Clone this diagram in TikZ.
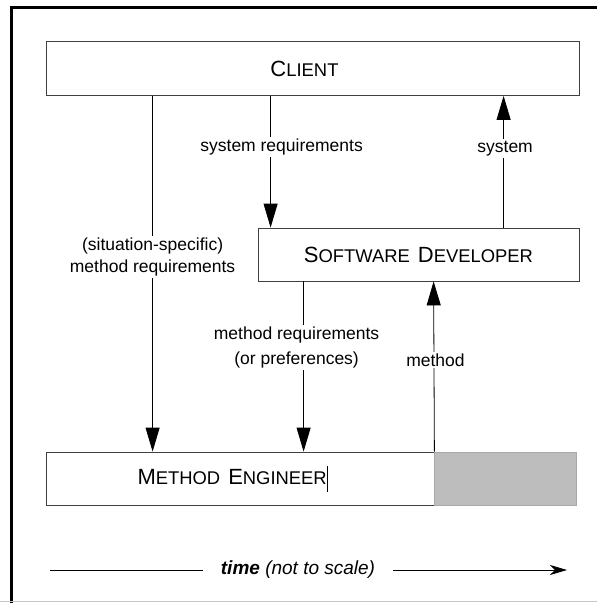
\documentclass[tikz,border=0pt]{standalone}
\usepackage{fontspec}
\setmainfont{Liberation Sans}
\usepackage{xcolor}
\usepackage{tikz}
\usetikzlibrary{arrows.meta, positioning}

\definecolor{boxline}{HTML}{404040}
\definecolor{idlefill}{HTML}{BDBDBD}
\definecolor{idleline}{HTML}{A8A8A8}

% fake small caps for the role names
\newcommand{\rolename}[2]{{\fontsize{22}{24}\selectfont #1}{\fontsize{18.4}{24}\selectfont #2}}

\begin{document}
\begin{tikzpicture}[x=1pt, y=-1pt,
        box/.style={rectangle, draw=boxline, line width=0.8pt, inner sep=0pt, minimum height=54pt},
        lbl/.style={fill=white, inner sep=2pt, align=center, font=\fontsize{17.5}{24}\selectfont},
        msg/.style={-{Triangle[length=24pt, width=14pt]}, line width=0.8pt}]
        \useasboundingbox (0,0) rectangle (597,603);

        % Frame
        \draw[line width=2.7pt] (11.7,603) -- (11.7,7.3) -- (597,7.3);
        \draw[gray!45, line width=1pt] (0,601.5) -- (597,601.5);

        % Actors
        \node[box, minimum width=533pt] (client) at (312.5,68.5) {\hspace{-16pt}\rolename{C}{LIENT}};
        \node[box, minimum width=321pt, minimum height=53pt] (dev) at (418.5,254.5) {\rolename{S}{OFTWARE}\hspace{8pt}\rolename{D}{EVELOPER}};
        \node[box, minimum width=388pt, minimum height=53pt] (engineer) at (240,478.5) {\hspace{-15pt}\rolename{M}{ETHOD}\hspace{8pt}\rolename{E}{NGINEER}\rule[-7pt]{0.7pt}{26pt}};
        \node[box, draw=idleline, fill=idlefill, minimum width=142pt, minimum height=53pt, right=0pt of engineer] (idle) {};

        % Messages
        \draw[msg] ([xshift=107pt]client.south west) -- node[lbl, pos=0.452, font=\fontsize{17.5}{22}\selectfont] {(situation-specific)\\method requirements} ([xshift=107pt]engineer.north west);
        \draw[msg] ([xshift=225pt]client.south west) -- node[lbl, pos=0.386, xshift=11pt] {system requirements} ([xshift=13pt]dev.north west);
        \draw[msg] ([xshift=246pt]dev.north west) -- node[lbl, pos=0.598, xshift=1.5pt] {system} ([xshift=458pt]client.south west);
        \draw[msg] ([xshift=46pt]dev.south west) -- node[lbl, pos=0.389, xshift=-7pt, font=\fontsize{17.5}{25}\selectfont] {method requirements\\(or preferences)} ([xshift=258pt]engineer.north west);
        \draw[msg] (engineer.north east) -- node[lbl, pos=0.538, xshift=1.5pt] {method} ([xshift=176pt]dev.south west);

        % Time axis
        \coordinate (tstart) at (50,570);
        \coordinate (tend) at (567,570);
        \node[inner xsep=18pt, font=\fontsize{19}{22}\selectfont] (time) at (298,570) {\textbf{\textit{time}} \textit{(not to scale)}};
        \draw[line width=0.8pt] (tstart) -- (time.west);
        \draw[line width=0.8pt, -{Stealth[length=17pt, width=10pt, inset=5pt]}] (time.east) -- (tend);

    \end{tikzpicture}
\end{document}
